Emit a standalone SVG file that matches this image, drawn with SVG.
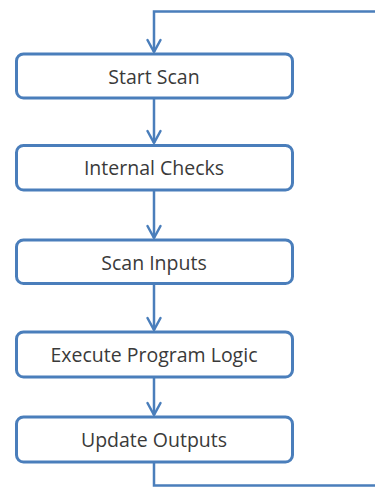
<svg xmlns="http://www.w3.org/2000/svg" width="375" height="487" viewBox="0 0 375 487">
  <style>
    .box { fill: #ffffff; stroke: #4a7ebb; stroke-width: 3; }
    .label { font-family: "Open Sans", "Liberation Sans", sans-serif; font-size: 19.5px; fill: #3a3a3a; text-anchor: middle; dominant-baseline: central; }
    .wire { fill: none; stroke: #4a7ebb; stroke-width: 2.5; }
    .head { fill: none; stroke: #4a7ebb; stroke-width: 2.5; stroke-linecap: round; stroke-linejoin: round; }
  </style>
  <rect width="375" height="487" fill="#ffffff"/>

  <g id="connectors">
    <!-- loop back from the last step to the first -->
    <path class="wire" d="M154,462 V485.5 H375"/>
    <path class="wire" d="M375,11.5 H154 V52"/>
    <path class="head" d="M147.5,40 L154,52 L160.5,40"/>
    <!-- step to step -->
    <path class="wire" d="M154,98 V143"/>
    <path class="head" d="M147.5,131 L154,143 L160.5,131"/>
    <path class="wire" d="M154,191 V238"/>
    <path class="head" d="M147.5,226 L154,238 L160.5,226"/>
    <path class="wire" d="M154,284 V330"/>
    <path class="head" d="M147.5,318 L154,330 L160.5,318"/>
    <path class="wire" d="M154,378 V415"/>
    <path class="head" d="M147.5,403 L154,415 L160.5,403"/>
  </g>

  <g id="start-scan">
    <rect class="box" x="16.5" y="54" width="276" height="44" rx="7"/>
    <text class="label" x="154" y="76">Start Scan</text>
  </g>
  <g id="internal-checks">
    <rect class="box" x="16.5" y="145.5" width="276" height="44.5" rx="7"/>
    <text class="label" x="154" y="167.5">Internal Checks</text>
  </g>
  <g id="scan-inputs">
    <rect class="box" x="16.5" y="240" width="276" height="43.5" rx="7"/>
    <text class="label" x="154" y="262">Scan Inputs</text>
  </g>
  <g id="execute-program-logic">
    <rect class="box" x="16.5" y="332" width="276" height="45" rx="7"/>
    <text class="label" x="154" y="354.5">Execute Program Logic</text>
  </g>
  <g id="update-outputs">
    <rect class="box" x="16.5" y="417" width="276" height="45" rx="7"/>
    <text class="label" x="154" y="439.5">Update Outputs</text>
  </g>
</svg>
